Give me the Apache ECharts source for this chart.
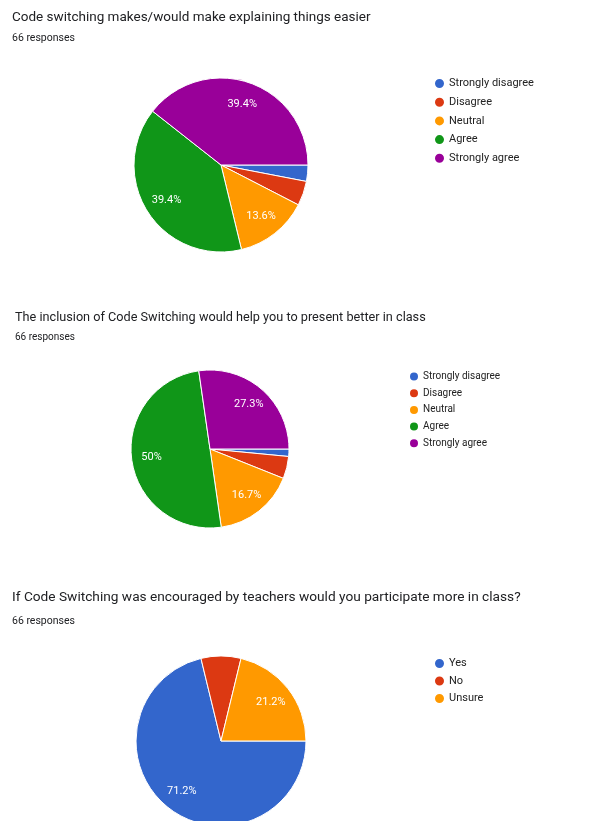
<!DOCTYPE html>
<html>
<head>
<meta charset="utf-8">
<script src="https://cdn.jsdelivr.net/npm/echarts@6/dist/echarts.min.js"></script>
<style>
html,body{margin:0;padding:0;background:#fff;}
#chart{width:592px;height:821px;}
</style>
</head>
<body>
<div id="chart"></div>
<script>
// ---- data ----
const titles = [
  "Code switching makes/would make explaining things easier",
  "The inclusion of Code Switching would help you to present better in class",
  "If Code Switching was encouraged by teachers would you participate more in class?"
];
const subtitles = ["66 responses", "66 responses", "66 responses"];

const categories1 = ["Strongly disagree", "Disagree", "Neutral", "Agree", "Strongly agree"];
const values1 = [2, 3, 9, 26, 26];

const categories2 = ["Strongly disagree", "Disagree", "Neutral", "Agree", "Strongly agree"];
const values2 = [1, 3, 11, 33, 18];

const categories3 = ["Yes", "No", "Unsure"];
const values3 = [47, 5, 14];

const colors5 = ["#3366cc", "#dc3912", "#ff9900", "#109618", "#990099"];
const colors3 = ["#3366cc", "#dc3912", "#ff9900"];

// ---- build ----
const FONT = "Roboto, 'Liberation Sans', Arial, sans-serif";
function toData(cats, vals, cols) {
  return cats.map((c, i) => ({ name: c, value: vals[i], itemStyle: { color: cols[i] } }));
}
function pctFmt(p) {
  if (p.percent < 10) return '';
  return (Math.round(p.percent * 10) / 10) + '%';
}
function pies(cats, vals, cols, center, r) {
  const data = toData(cats, vals, cols);
  return [
    {
      type: 'pie', center: center, radius: r, startAngle: 0, clockwise: true,
      data: data, label: { show: false }, labelLine: { show: false },
      itemStyle: { borderColor: '#fff', borderWidth: 1 },
      emphasis: { disabled: true }, animation: false
    },
    {
      type: 'pie', center: center, radius: [r * 0.42, r], startAngle: 0, clockwise: true,
      data: data.map(d => ({ name: d.name, value: d.value, itemStyle: { color: 'rgba(0,0,0,0)' } })),
      silent: true, labelLine: { show: false },
      label: { show: true, position: 'inside', color: '#fff', fontSize: 11, fontFamily: FONT, formatter: pctFmt },
      emphasis: { disabled: true }, animation: false, legendHoverLink: false
    }
  ];
}
function legendOf(cats, cols, left, top, gap, size, fs) {
  return {
    orient: 'vertical', left: left, top: top, itemGap: gap, itemWidth: size, itemHeight: size,
    icon: 'circle', selectedMode: false, padding: 0,
    textStyle: { fontSize: fs, color: '#222', fontFamily: FONT, padding: [0, 0, 0, -1] },
    data: cats.map((c, i) => ({ name: c, itemStyle: { color: cols[i] } }))
  };
}
function titleOf(text, left, center, fs, color) {
  const lh = Math.round(fs * 1.25);
  return {
    text: text, left: left, top: center - lh / 2, padding: 0,
    textStyle: { fontSize: fs, fontWeight: 'normal', color: color, fontFamily: FONT, lineHeight: lh }
  };
}

const option = {
  animation: false,
  backgroundColor: '#fff',
  title: [
    titleOf(titles[0], 12, 18, 13.5, '#202124'),
    titleOf(subtitles[0], 12, 38, 10.5, '#202124'),
    titleOf(titles[1], 15, 318, 12.7, '#202124'),
    titleOf(subtitles[1], 15, 337, 10, '#202124'),
    titleOf(titles[2], 12, 598, 13.7, '#202124'),
    titleOf(subtitles[2], 12, 621, 10.5, '#202124')
  ],
  legend: [
    legendOf(categories1, colors5, 433, 77, 5.7, 11, 11),
    legendOf(categories2, colors5, 408, 370.5, 4.7, 10, 10),
    legendOf(categories3, colors3, 433, 657, 4.5, 11, 11)
  ],
  series: [].concat(
    pies(categories1, values1, colors5, [221, 165], 87),
    pies(categories2, values2, colors5, [210, 449], 79),
    pies(categories3, values3, colors3, [221, 741], 85)
  )
};
const chart = echarts.init(document.getElementById('chart'), null, { renderer: 'canvas' });
chart.setOption(option);
</script>
</body>
</html>
